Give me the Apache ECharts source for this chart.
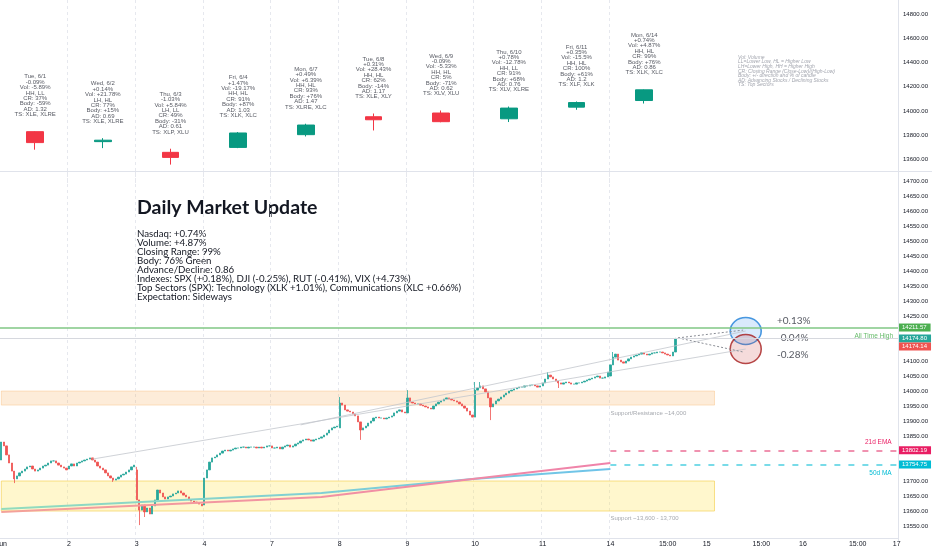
<!DOCTYPE html>
<html>
<head>
<meta charset="utf-8">
<script src="https://cdn.jsdelivr.net/npm/echarts@6/dist/echarts.min.js"></script>
<style>
  html, body { margin: 0; padding: 0; background: #fff; }
  #chart { width: 932px; height: 550px; }
</style>
</head>
<body>
<div id="chart"></div>
<script>
// time slots: 15 min bars, 26 per session, then empty future area
const slotCount = 345;
const barsPerDay = 26;
const tickSlots = [0, 26, 52, 78, 104, 130, 156, 182, 208, 234, 256, 271, 292, 308, 329, 344];
const tickLabels = ["Jun", "2", "3", "4", "7", "8", "9", "10", "11", "14", "15:00", "15", "15:00", "16", "15:00", "17"];
const gridSlots = [26, 52, 78, 104, 130, 156, 182, 208, 234];

// daily candles (top pane)
const dailyOpen = [13827, 13744, 13655, 13696, 13802, 13951, 13982, 13934, 14031, 14086];
const dailyClose = [13736, 13756, 13613, 13816, 13882, 13926, 13910, 14023, 14069, 14175];
const dailyLow = [13677, 13690, 13553, 13690, 13787, 13837, 13905, 13907, 14009, 14061];
const dailyHigh = [13830, 13773, 13685, 13824, 13893, 13978, 14003, 14036, 14078, 14178];

const dayNames = ["Tue, 6/1", "Wed, 6/2", "Thu, 6/3", "Fri, 6/4", "Mon, 6/7", "Tue, 6/8", "Wed, 6/9", "Thu, 6/10", "Fri, 6/11", "Mon, 6/14"];
const dayChange = ["-0.09%", "+0.14%", "-1.03%", "+1.47%", "+0.49%", "+0.31%", "-0.09%", "+0.78%", "+0.35%", "+0.74%"];
const volChange = ["-5.89%", "+21.78%", "+5.84%", "-19.17%", "+6.39%", "+28.43%", "-5.33%", "-12.78%", "-15.5%", "+4.87%"];
const structure = ["HH, LL", "LH, HL", "LH, LL", "HH, HL", "HH, HL", "HH, HL", "HH, HL", "HH, LL", "HH, HL", "HH, HL"];
const closingRange = ["37%", "77%", "49%", "91%", "93%", "62%", "5%", "91%", "100%", "99%"];
const bodyPct = ["-59%", "+15%", "-31%", "+87%", "+76%", "-14%", "-71%", "+68%", "+61%", "+76%"];
const adRatio = ["1.32", "0.69", "0.61", "1.03", "1.47", "1.17", "0.62", "0.76", "1.2", "0.86"];
const topSectors = ["XLE, XLRE", "XLE, XLRE", "XLP, XLU", "XLK, XLC", "XLRE, XLC", "XLE, XLY", "XLV, XLU", "XLV, XLRE", "XLF, XLK", "XLK, XLC"];

// intraday closes per session (bottom pane)
const sessionOpen = [13770, 13740, 13737, 13620, 13817, 13877, 13927, 13913, 14017, 14050];
const closes0601 = [13830, 13817, 13787, 13760, 13733, 13707, 13717, 13727, 13733, 13740, 13747, 13750, 13740, 13733, 13737, 13743, 13750, 13753, 13760, 13767, 13767, 13760, 13753, 13747, 13743, 13737];
const closes0602 = [13750, 13757, 13750, 13760, 13763, 13767, 13770, 13773, 13777, 13770, 13763, 13750, 13743, 13737, 13727, 13717, 13710, 13703, 13707, 13713, 13720, 13723, 13730, 13737, 13747, 13753];
const closes0603 = [13637, 13603, 13620, 13597, 13610, 13590, 13617, 13637, 13670, 13660, 13647, 13640, 13647, 13650, 13657, 13660, 13667, 13660, 13653, 13647, 13637, 13633, 13630, 13627, 13623, 13617];
const closes0604 = [13710, 13737, 13763, 13777, 13780, 13787, 13793, 13800, 13803, 13800, 13803, 13807, 13810, 13810, 13813, 13813, 13810, 13813, 13813, 13813, 13810, 13813, 13810, 13813, 13817, 13817];
const closes0607 = [13810, 13810, 13813, 13807, 13813, 13817, 13820, 13813, 13817, 13823, 13827, 13833, 13837, 13840, 13837, 13833, 13837, 13840, 13843, 13847, 13853, 13860, 13870, 13877, 13880, 13883];
const closes0608 = [13960, 13953, 13937, 13933, 13930, 13923, 13917, 13897, 13870, 13877, 13883, 13893, 13900, 13910, 13913, 13910, 13910, 13907, 13910, 13913, 13917, 13927, 13933, 13937, 13930, 13927];
const closes0609 = [13977, 13963, 13960, 13957, 13957, 13953, 13950, 13947, 13943, 13940, 13950, 13957, 13963, 13967, 13973, 13977, 13973, 13970, 13967, 13963, 13957, 13950, 13943, 13933, 13920, 13913];
const closes0610 = [14003, 14010, 14017, 14007, 13997, 13977, 13947, 13957, 13967, 13973, 13980, 13987, 13993, 14000, 14003, 14007, 14010, 14013, 14013, 14017, 14017, 14020, 14020, 14017, 14013, 14017];
const closes0611 = [14027, 14040, 14053, 14047, 14040, 14033, 14027, 14023, 14027, 14030, 14027, 14023, 14023, 14027, 14027, 14030, 14033, 14037, 14040, 14043, 14047, 14050, 14043, 14043, 14047, 14063];
const closes0614 = [14087, 14113, 14123, 14103, 14097, 14093, 14100, 14107, 14113, 14117, 14120, 14123, 14127, 14123, 14120, 14123, 14127, 14127, 14130, 14130, 14127, 14123, 14120, 14117, 14130, 14174];
const sessions = [closes0601, closes0602, closes0603, closes0604, closes0607, closes0608, closes0609, closes0610, closes0611, closes0614];
// visible wicks: [bar, high, low]
const wicks = [[5, null, 13693], [43, null, 13697], [52, 13747, null], [53, null, 13553], [55, null, 13580],
  [130, 13980, null], [138, null, 13837], [156, 14003, null], [182, 14030, null], [184, 14030, null],
  [188, null, 13903], [210, 14063, null], [214, null, 14010], [235, 14130, null], [259, 14177, null]];

// levels and drawings
const allTimeHigh = 14211.57;
const lastPrice = 14174.80;
const lastClose = 14174.14;
const ema21 = 13802.19;
const ma50 = 13754.75;
const levelStartSlot = 234;
const resistanceZone = [13953, 14000];
const supportZone = [13600, 13700];
const zoneEndSlot = 274;
const maLine = [[0, 13607], [123, 13660], [181, 13707], [234, 13740]];
const emaLine = [[0, 13597], [123, 13647], [181, 13707], [234, 13760]];
const trendLines = [[[35, 13773], [286, 14140]], [[115, 13887], [286, 14200]]];
const projectionLines = [[[260, 14177], [285, 14203]], [[260, 14177], [285, 14130]]];
const scenarioTargets = [[286, 14200], [286, 14140]];
const scenarioLabels = [[298, 14233, "+0.13%"], [298, 14177, "-0.04%"], [298, 14120, "-0.28%"]];
const zoneNotes = [[234, 13927, "Support/Resistance ~14,000"], [234, 13577, "Support ~13,600 - 13,700"]];

const summaryTitle = "Daily Market Update";
const summaryLines = [
  "Nasdaq: +0.74%",
  "Volume: +4.87%",
  "Closing Range: 99%",
  "Body: 76% Green",
  "Advance/Decline: 0.86",
  "Indexes: SPX (+0.18%), DJI (-0.25%), RUT (-0.41%), VIX (+4.73%)",
  "Top Sectors (SPX): Technology (XLK +1.01%), Communications (XLC +0.66%)",
  "Expectation: Sideways"
];
const legendNotes = [
  "Vol: Volume",
  "LL=Lower Low, HL = Higher Low",
  "LH=Lower High, HH = Higher High",
  "CR: Closing Range (Close-Low)/(High-Low)",
  "Body: +/- direction and % of candle",
  "AD: Advancing Stocks / Declining Stocks",
  "TS: Top Sectors"
];

const smallFont = "Liberation Sans";
const slots = [];
for (let i = 0; i < slotCount; i++) slots.push(String(i));
const labelAt = {};
tickSlots.forEach((s, i) => { labelAt[s] = tickLabels[i]; });

// top pane data, one candle in the middle of each session
const dailyData = slots.map(() => ["-", "-", "-", "-"]);
dailyOpen.forEach((o, d) => {
  dailyData[d * barsPerDay + 13] = [o, dailyClose[d], dailyLow[d], dailyHigh[d]];
});

// bottom pane bars
const intraday = [];
sessions.forEach((closes, d) => {
  closes.forEach((c, i) => {
    const o = i === 0 ? sessionOpen[d] : closes[i - 1];
    intraday.push([o, c, Math.min(o, c), Math.max(o, c)]);
  });
});
wicks.forEach(([bar, h, l]) => {
  if (h !== null) intraday[bar][3] = h;
  if (l !== null) intraday[bar][2] = l;
});

// bottom pane: 1230 points over 369 px; stacked price tags sit 8 px apart
const bottomMin = 13500, bottomMax = 14730, bottomHeight = 369;
const tagStep = 8 * (bottomMax - bottomMin) / bottomHeight;

const tagValues = [allTimeHigh, lastPrice, lastClose, ema21, ma50];
function tag(value, bg) {
  return {
    show: true, position: "end", distance: 1, formatter: value.toFixed(2),
    backgroundColor: bg, color: "#fff", fontSize: 6, fontFamily: smallFont,
    padding: [1, 4, 1, 3]
  };
}
const hidden = { color: "transparent", width: 0 };

const chart = echarts.init(document.getElementById("chart"));
chart.setOption({
  animation: false,
  backgroundColor: "#ffffff",
  grid: [
    { left: 0, right: 34, top: 0, height: 183, outerBoundsMode: "none" },
    { left: 0, right: 34, top: 172, height: bottomHeight, outerBoundsMode: "none" }
  ],
  xAxis: [
    {
      type: "category", gridIndex: 0, data: slots, boundaryGap: true,
      axisLine: { show: false }, axisTick: { show: false }, axisLabel: { show: false },
      splitLine: { show: true, interval: (i) => gridSlots.includes(i), lineStyle: { color: "#e6e8ee", type: [3, 3] } }
    },
    {
      type: "category", gridIndex: 1, data: slots, boundaryGap: true, offset: -3,
      axisLine: { show: true, lineStyle: { color: "#e0e3eb" } },
      axisTick: { show: false },
      axisLabel: {
        interval: 0, margin: 3, fontSize: 7, color: "#131722", fontFamily: smallFont,
        formatter: (v, i) => labelAt[i] || ""
      },
      splitLine: { show: true, interval: (i) => gridSlots.includes(i), lineStyle: { color: "#e6e8ee", type: [3, 3] } }
    }
  ],
  yAxis: [
    {
      type: "value", gridIndex: 0, position: "right", min: 13400, max: 14922, interval: 200,
      axisLine: { show: true, lineStyle: { color: "#e0e3eb" } }, axisTick: { show: false },
      splitLine: { show: false },
      axisLabel: {
        showMinLabel: false, showMaxLabel: false,
        margin: 5, fontSize: 6, color: "#131722", fontFamily: smallFont, formatter: (v) => v.toFixed(2)
      }
    },
    {
      type: "value", gridIndex: 1, position: "right", min: bottomMin, max: bottomMax, interval: 50,
      axisLine: { show: true, lineStyle: { color: "#e0e3eb" } }, axisTick: { show: false },
      splitLine: { show: false },
      axisLabel: {
        showMinLabel: false, showMaxLabel: false,
        margin: 5, fontSize: 6, color: "#131722", fontFamily: smallFont,
        formatter: (v) => (v === bottomMax || tagValues.some((t) => Math.abs(t - v) < 26)) ? "" : v.toFixed(2)
      }
    }
  ],
  graphic: [
    { type: "line", silent: true, shape: { x1: 0, y1: 171.5, x2: 932, y2: 171.5 }, style: { stroke: "#e0e3eb", lineWidth: 1 } },
    { type: "text", left: 137, top: 198, style: { text: summaryTitle, font: "bold 19.5px Lato", fill: "#131722" } },
    { type: "text", left: 137, top: 229, style: { text: summaryLines.join("\n"), font: "9.7px Lato", lineHeight: 9, fill: "#131722" } },
    { type: "text", left: 738, top: 55, style: { text: legendNotes.join("\n"), font: "italic 5px 'Liberation Sans'", lineHeight: 4.6, fill: "#a3a6af" } }
  ],
  series: [
    {
      name: "Daily", type: "candlestick", xAxisIndex: 0, yAxisIndex: 0, barWidth: 17,
      itemStyle: { color: "#089981", color0: "#f23645", borderColor: "#089981", borderColor0: "#f23645", borderWidth: 1 },
      data: dailyData
    },
    {
      name: "Daily notes", type: "scatter", xAxisIndex: 0, yAxisIndex: 0, symbolSize: 0, silent: true,
      data: dailyHigh.map((h, d) => [d * barsPerDay + 13, h]),
      label: {
        show: true, position: "top", distance: 14, fontSize: 6, lineHeight: 5.4, align: "center",
        color: "#2a2e39", fontFamily: smallFont,
        formatter: (p) => {
          const d = p.dataIndex;
          return [dayNames[d], dayChange[d], "Vol: " + volChange[d], structure[d], "CR: " + closingRange[d],
            "Body: " + bodyPct[d], "AD: " + adRatio[d], "TS: " + topSectors[d]].join("\n");
        }
      }
    },
    {
      name: "50d MA", type: "line", xAxisIndex: 1, yAxisIndex: 1, symbol: "none", silent: true,
      data: maLine,
      lineStyle: {
        width: 2,
        color: new echarts.graphic.LinearGradient(0, 0, 1, 0, [
          { offset: 0, color: "#93dcbc" }, { offset: 1, color: "#6ec3ea" }
        ])
      },
      markArea: {
        silent: true,
        data: [
          [{ xAxis: 0, yAxis: resistanceZone[0], itemStyle: { color: "rgba(247,170,80,0.22)", borderColor: "rgba(247,170,80,0.3)", borderWidth: 1 } },
           { xAxis: zoneEndSlot, yAxis: resistanceZone[1] }],
          [{ xAxis: 0, yAxis: supportZone[0], itemStyle: { color: "rgba(255,228,90,0.3)", borderColor: "rgba(245,210,90,0.7)", borderWidth: 1 } },
           { xAxis: zoneEndSlot, yAxis: supportZone[1] }]
        ]
      }
    },
    {
      name: "21d EMA", type: "line", xAxisIndex: 1, yAxisIndex: 1, symbol: "none", silent: true,
      data: emaLine,
      lineStyle: {
        width: 2,
        color: new echarts.graphic.LinearGradient(0, 0, 1, 0, [
          { offset: 0, color: "#f4a29a" }, { offset: 1, color: "#ef82aa" }
        ])
      }
    },
    ...trendLines.map((pts) => ({
      type: "line", xAxisIndex: 1, yAxisIndex: 1, symbol: "none", silent: true, data: pts,
      lineStyle: { width: 0.8, color: "#c3c6cd" }
    })),
    ...projectionLines.map((pts) => ({
      type: "line", xAxisIndex: 1, yAxisIndex: 1, symbol: "none", silent: true, data: pts,
      lineStyle: { width: 1, color: "#8a8d95", type: [2, 2] }
    })),
    {
      name: "NASDAQ 15m", type: "candlestick", xAxisIndex: 1, yAxisIndex: 1, barWidth: 1.8,
      itemStyle: { color: "#26a69a", color0: "#ef5350", borderColor: "#26a69a", borderColor0: "#ef5350", borderWidth: 0.8 },
      data: intraday,
      markLine: {
        silent: true, symbol: "none", animation: false,
        data: [
          { yAxis: allTimeHigh, lineStyle: { color: "#81c784", width: 1.5, type: "solid" },
            label: { show: true, position: "insideEndBottom", formatter: "All Time High", color: "#66bb6a", fontSize: 6.5, fontFamily: smallFont } },
          { yAxis: allTimeHigh, lineStyle: hidden, label: tag(allTimeHigh, "#4caf50") },
          { yAxis: lastPrice, lineStyle: { color: "#d6d8de", width: 1, type: "solid" }, label: tag(lastPrice, "#26a69a") },
          { yAxis: lastPrice - tagStep, lineStyle: hidden, label: tag(lastClose, "#ef5350") },
          [{ coord: [levelStartSlot, ema21], lineStyle: { color: "#ec6f96", width: 1.5, type: [6, 8] },
             label: { show: true, position: "insideEndTop", formatter: "21d EMA", color: "#e91e63", fontSize: 6.5, fontFamily: smallFont } },
           { coord: [slotCount - 1, ema21] }],
          { yAxis: ema21, lineStyle: hidden, label: tag(ema21, "#e91e63") },
          [{ coord: [levelStartSlot, ma50], lineStyle: { color: "#4dd0e1", width: 1.5, type: [6, 8] },
             label: { show: true, position: "insideEndBottom", formatter: "50d MA", color: "#00bcd4", fontSize: 6.5, fontFamily: smallFont } },
           { coord: [slotCount - 1, ma50] }],
          { yAxis: ma50, lineStyle: hidden, label: tag(ma50, "#00bcd4") }
        ]
      }
    },
    {
      name: "Scenarios", type: "scatter", xAxisIndex: 1, yAxisIndex: 1, silent: true,
      data: [
        { value: scenarioTargets[0], symbolSize: [31, 27], itemStyle: { color: "rgba(66,150,240,0.25)", borderColor: "#1e7fd8", borderWidth: 1.5 } },
        { value: scenarioTargets[1], symbolSize: [31, 29], itemStyle: { color: "rgba(200,50,50,0.22)", borderColor: "#a51c1c", borderWidth: 1.5 } }
      ]
    },
    {
      name: "Scenario labels", type: "scatter", xAxisIndex: 1, yAxisIndex: 1, symbolSize: 0, silent: true,
      data: scenarioLabels,
      label: { show: true, position: "right", distance: 0, formatter: (p) => p.value[2], fontSize: 10, color: "#2a2e39", fontFamily: "Lato" }
    },
    {
      name: "Zone notes", type: "scatter", xAxisIndex: 1, yAxisIndex: 1, symbolSize: 0, silent: true,
      data: zoneNotes,
      label: { show: true, position: "right", distance: 0, formatter: (p) => p.value[2], fontSize: 6, color: "#8f929a", fontFamily: smallFont }
    }
  ]
});
</script>
</body>
</html>
